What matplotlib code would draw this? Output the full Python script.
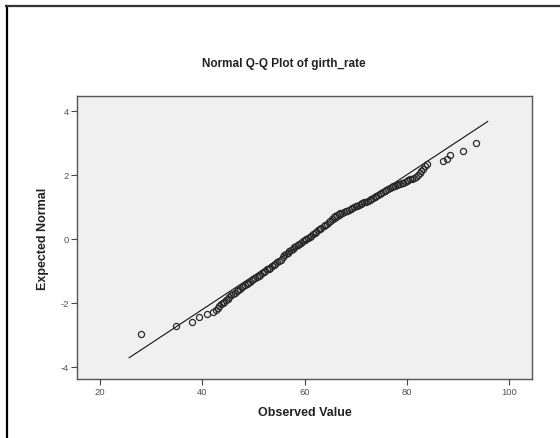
import matplotlib
matplotlib.use("Agg")
import matplotlib.pyplot as plt
from matplotlib.lines import Line2D

plt.rcParams['font.family'] = ['Liberation Sans', 'DejaVu Sans']
plt.rcParams['axes.unicode_minus'] = False

observed = [
    28.0, 34.9, 38.0, 39.3, 41.0, 42.0, 42.6,
    43.0, 43.3, 43.7, 44.0, 44.3, 44.7, 45.0, 45.3, 45.7,
    46.0, 46.3, 46.7, 47.0, 47.3, 47.7, 48.0, 48.3, 48.7,
    49.0, 49.3, 49.7, 50.0, 50.3, 50.7, 51.0, 51.3, 51.7,
    52.0, 52.3, 52.7, 53.0, 53.3, 53.7, 54.0, 54.3, 54.7,
    55.0, 55.3, 55.7, 56.0, 56.3, 56.7, 57.0, 57.3, 57.7,
    58.0, 58.3, 58.7, 59.0, 59.3, 59.7, 60.0, 60.3, 60.7,
    61.0, 61.3, 61.7, 62.0, 62.3, 62.7, 63.0, 63.3, 63.7,
    64.0, 64.3, 64.7, 65.0, 65.3, 65.7, 66.0, 66.3, 66.7,
    67.0, 67.3, 67.7, 68.0, 68.3, 68.7, 69.0, 69.3, 69.7,
    70.0, 70.3, 70.7, 71.0, 71.3, 71.7, 72.0, 72.3, 72.7,
    73.0, 73.3, 73.7, 74.0, 74.3, 74.7, 75.0, 75.3, 75.7,
    76.0, 76.3, 76.7, 77.0, 77.3, 77.7, 78.0, 78.3, 78.7,
    79.0, 79.3, 79.7, 80.0, 80.3, 80.7, 81.0, 81.3, 81.7,
    82.2, 82.5, 82.8, 83.1, 83.5, 84.0, 87.0, 87.8, 88.5, 91.0, 93.5,
]
expected = [
    -2.96, -2.72, -2.60, -2.44, -2.36, -2.29, -2.22,
    -2.15, -2.11, -2.05, -2.01, -1.97, -1.92, -1.88, -1.83, -1.77,
    -1.72, -1.68, -1.64, -1.60, -1.56, -1.52, -1.48, -1.45, -1.40,
    -1.37, -1.34, -1.29, -1.26, -1.23, -1.18, -1.15, -1.12, -1.07,
    -1.04, -1.01, -0.96, -0.93, -0.90, -0.86, -0.83, -0.79, -0.74,
    -0.70, -0.65, -0.57, -0.52, -0.48, -0.43, -0.39, -0.35, -0.31,
    -0.27, -0.24, -0.19, -0.16, -0.13, -0.08, -0.05, -0.01, 0.03,
    0.07, 0.10, 0.15, 0.18, 0.22, 0.26, 0.30, 0.34, 0.39,
    0.43, 0.47, 0.52, 0.56, 0.61, 0.67, 0.71, 0.74, 0.77,
    0.80, 0.82, 0.84, 0.86, 0.88, 0.91, 0.93, 0.95, 0.99,
    1.01, 1.03, 1.07, 1.09, 1.11, 1.14, 1.16, 1.18, 1.22,
    1.24, 1.27, 1.30, 1.33, 1.36, 1.40, 1.43, 1.46, 1.50,
    1.53, 1.56, 1.59, 1.62, 1.64, 1.66, 1.68, 1.70, 1.72,
    1.73, 1.75, 1.78, 1.80, 1.82, 1.86, 1.88, 1.90, 1.93,
    1.98, 2.04, 2.11, 2.18, 2.26, 2.35, 2.44, 2.50, 2.62, 2.75, 2.98,
]

# reference normal line
line_mean = 61.0
line_sd = 9.5
line_x = [25.7, 95.8]

x_ticks = [20, 40, 60, 80, 100]
y_ticks = [-4, -2, 0, 2, 4]

fig = plt.figure(figsize=(5.6, 4.39), dpi=100)
ax = fig.add_axes([0.138, 0.1344, 0.8115, 0.644])
ax.set_facecolor('#f0f0f0')

line_y = [(v - line_mean) / line_sd for v in line_x]
ax.plot(line_x, line_y, color='#111111', lw=0.8, zorder=2)
ax.plot(observed, expected, 'o', ms=4.4, mfc='none', mec='#2a2a2a', mew=0.9, zorder=3)

ax.set_xlim(15.56, 104.4)
ax.set_ylim(-4.38, 4.45)
ax.set_xticks(x_ticks)
ax.set_yticks(y_ticks)
ax.tick_params(axis='both', labelsize=6.8, labelcolor='#555555', color='#444444',
               length=4, width=0.8, direction='out', pad=2)
for s in ax.spines.values():
    s.set_color('#555555')
    s.set_linewidth(1.0)

ax.set_xlabel('Observed Value', fontsize=9, fontweight='bold', color='#222222', labelpad=7)
ax.set_ylabel('Expected Normal', fontsize=9, fontweight='bold', color='#222222', labelpad=8)
fig.text(0.506, 1 - 64 / 439, 'Normal Q-Q Plot of girth_rate', ha='center', va='center',
         fontsize=8.5, fontweight='bold', color='#222222')

# frame at left and top of the picture
fig.add_artist(Line2D([7 / 560, 7 / 560], [0, 1 - 7 / 439], color='black', lw=1.6))
fig.add_artist(Line2D([6 / 560, 1], [1 - 7 / 439, 1 - 7 / 439], color='#333333', lw=1.6))

fig.savefig('out.png', dpi=100)
